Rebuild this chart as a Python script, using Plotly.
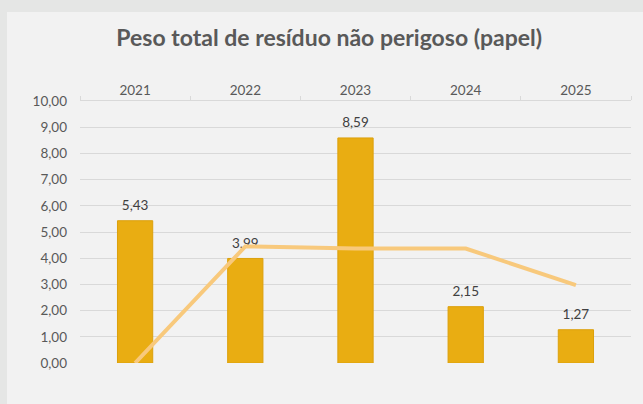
import plotly.graph_objects as go

years = ["2021", "2022", "2023", "2024", "2025"]
peso = [5.43, 3.99, 8.59, 2.15, 1.27]
linha = [0.0, 4.45, 4.37, 4.37, 2.97]
labels = ["5,43", "3,99", "8,59", "2,15", "1,27"]

FONT = "Lato"

fig = go.Figure()
fig.add_trace(go.Bar(
    x=years, y=peso, width=0.32,
    marker=dict(color="#E9AD12", line=dict(color="#DCA00C", width=1)),
    showlegend=False,
))
fig.add_trace(go.Scatter(
    x=years, y=peso, mode="markers+text",
    marker=dict(size=10, opacity=0),
    text=labels, textposition="top center", cliponaxis=False,
    textfont=dict(family=FONT, size=13.5, color="#404040"),
    showlegend=False, hoverinfo="skip",
))
fig.add_trace(go.Scatter(
    x=years, y=linha, mode="lines",
    line=dict(color="#F8C97C", width=4),
    showlegend=False, cliponaxis=False,
))

fig.add_shape(type="rect", xref="paper", yref="paper",
              x0=-0.1325, x1=1.05, y0=-0.2, y1=1.34,
              fillcolor="#F2F2F2", line=dict(width=0), layer="below")

fig.update_layout(
    width=643, height=404,
    margin=dict(l=80, r=12, t=101, b=41, autoexpand=False),
    paper_bgcolor="#E5E6E5", plot_bgcolor="rgba(0,0,0,0)",
    separators=",.",
    title=dict(text="<b>Peso total de resíduo não perigoso (papel)</b>",
               x=0.512, xanchor="center", y=0.906, yanchor="middle",
               font=dict(family=FONT, size=23, color="#595959")),
    font=dict(family=FONT, color="#595959"),
)
fig.update_xaxes(side="top", showline=True, linecolor="#D9D9D9",
                 ticks="outside", tickson="boundaries", ticklen=4, tickcolor="#D9D9D9",
                 tickfont=dict(family=FONT, size=13.5, color="#595959"), showgrid=False)
fig.update_yaxes(range=[0, 10], dtick=1, tickformat=".2f", showgrid=True, gridcolor="#D9D9D9",
                 zeroline=False, tickfont=dict(family=FONT, size=13.5, color="#595959"),
                 ticks="", ticklabelstandoff=12)

fig.write_html("out.html", config={"displayModeBar": False},
               post_script="document.body.style.margin='0';document.body.style.background='#E5E6E5';")
